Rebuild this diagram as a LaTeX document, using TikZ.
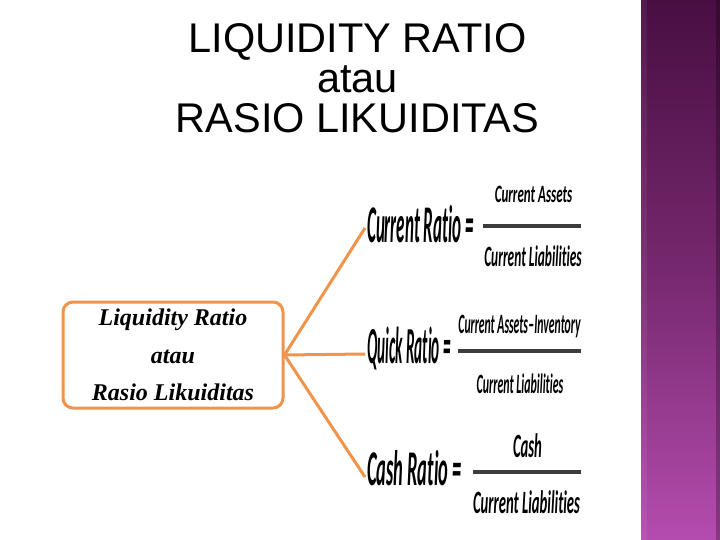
\documentclass[tikz,border=0pt]{standalone}
\usepackage{fontspec}
\setmainfont{Liberation Serif}
\newfontfamily\titlefont{Liberation Sans}
\newfontfamily\carl[Ligatures=NoCommon]{Carlito}
\newcommand\fml[3]{\scalebox{#1}[#2]{\fontsize{10}{12}\selectfont\carl\bfseries\itshape #3}}
\definecolor{orng}{RGB}{240,148,75}
\definecolor{bardark}{RGB}{60,60,60}
\definecolor{purtop}{RGB}{72,14,66}
\definecolor{purmid}{RGB}{118,40,110}
\definecolor{purbot}{RGB}{180,76,174}
\begin{document}
\begin{tikzpicture}[x=1pt,y=-1pt,
  ttl/.style={font=\titlefont\fontsize{41.5}{41.5}\selectfont, anchor=base, inner sep=0},
  lbl/.style={anchor=base west, inner sep=0},
  frac/.style={anchor=base, inner sep=0},
  fbar/.style={line width=4.5pt, draw=bardark},
  conn/.style={draw=orng, line width=3pt},
  mainbox/.style={draw=orng, line width=3pt, rounded corners=10pt, minimum width=220pt, minimum height=106pt, align=center, font=\fontsize{24}{37.5}\selectfont\bfseries\itshape, inner sep=0}]
\useasboundingbox (0,0) rectangle (720,540);
\fill[white] (0,0) rectangle (720,540);
% purple side panel
\shade[top color=purtop, bottom color=purbot, middle color=purmid] (641,0) rectangle (720,540);
\fill[white, opacity=0.06] (641,0) rectangle (647,540);
\fill[black, opacity=0.25] (716,0) rectangle (720,540);
% title
\node[ttl] (t1) at (357.5,53) {LIQUIDITY RATIO};
\node[ttl] (t2) at (357.5,93) {atau};
\node[ttl] (t3) at (357.5,133) {RASIO LIKUIDITAS};
% main box
\node[mainbox] (box) at (173,355) {Liquidity Ratio\\atau\\Rasio Likuiditas};
% connector ends
\coordinate (e1) at (365,228);
\coordinate (e2) at (365,354);
\coordinate (e3) at (365,477);
\draw[conn] (e1) -- (box.east) -- (e3);
\draw[conn] (box.east) -- (e2);
% Current ratio
\node[lbl] (cr) at (367,243) {\fml{1.70}{5.3}{Current Ratio =}};
\node[frac] (crn) at (533.5,203) {\fml{1.30}{2.5}{Current Assets}};
\coordinate (crb1) at (483,226);
\coordinate (crb2) at (581,226);
\draw[fbar] (crb1) -- (crb2);
\node[frac] (crd) at (533,266) {\fml{1.34}{2.95}{Current Liabilities}};
% Quick ratio
\node[lbl] (qr) at (367,363) {\fml{1.52}{5.2}{Quick Ratio =}};
\node[frac] (qrn) at (519.5,333) {\fml{1.17}{2.8}{Current Assets\kern0.02em–\kern0.02em Inventory}};
\coordinate (qrb1) at (458,351);
\coordinate (qrb2) at (581,351);
\draw[fbar] (qrb1) -- (qrb2);
\node[frac] (qrd) at (520,393) {\fml{1.19}{2.8}{Current Liabilities}};
% Cash ratio
\node[lbl] (ca) at (367,485) {\fml{1.84}{5.0}{Cash Ratio =}};
\node[frac] (can) at (527.5,457) {\fml{1.47}{3.4}{Cash}};
\coordinate (cab1) at (473,472);
\coordinate (cab2) at (581,472);
\draw[fbar] (cab1) -- (cab2);
\node[frac] (cad) at (526.5,513) {\fml{1.47}{3.26}{Current Liabilities}};
\end{tikzpicture}
\end{document}
